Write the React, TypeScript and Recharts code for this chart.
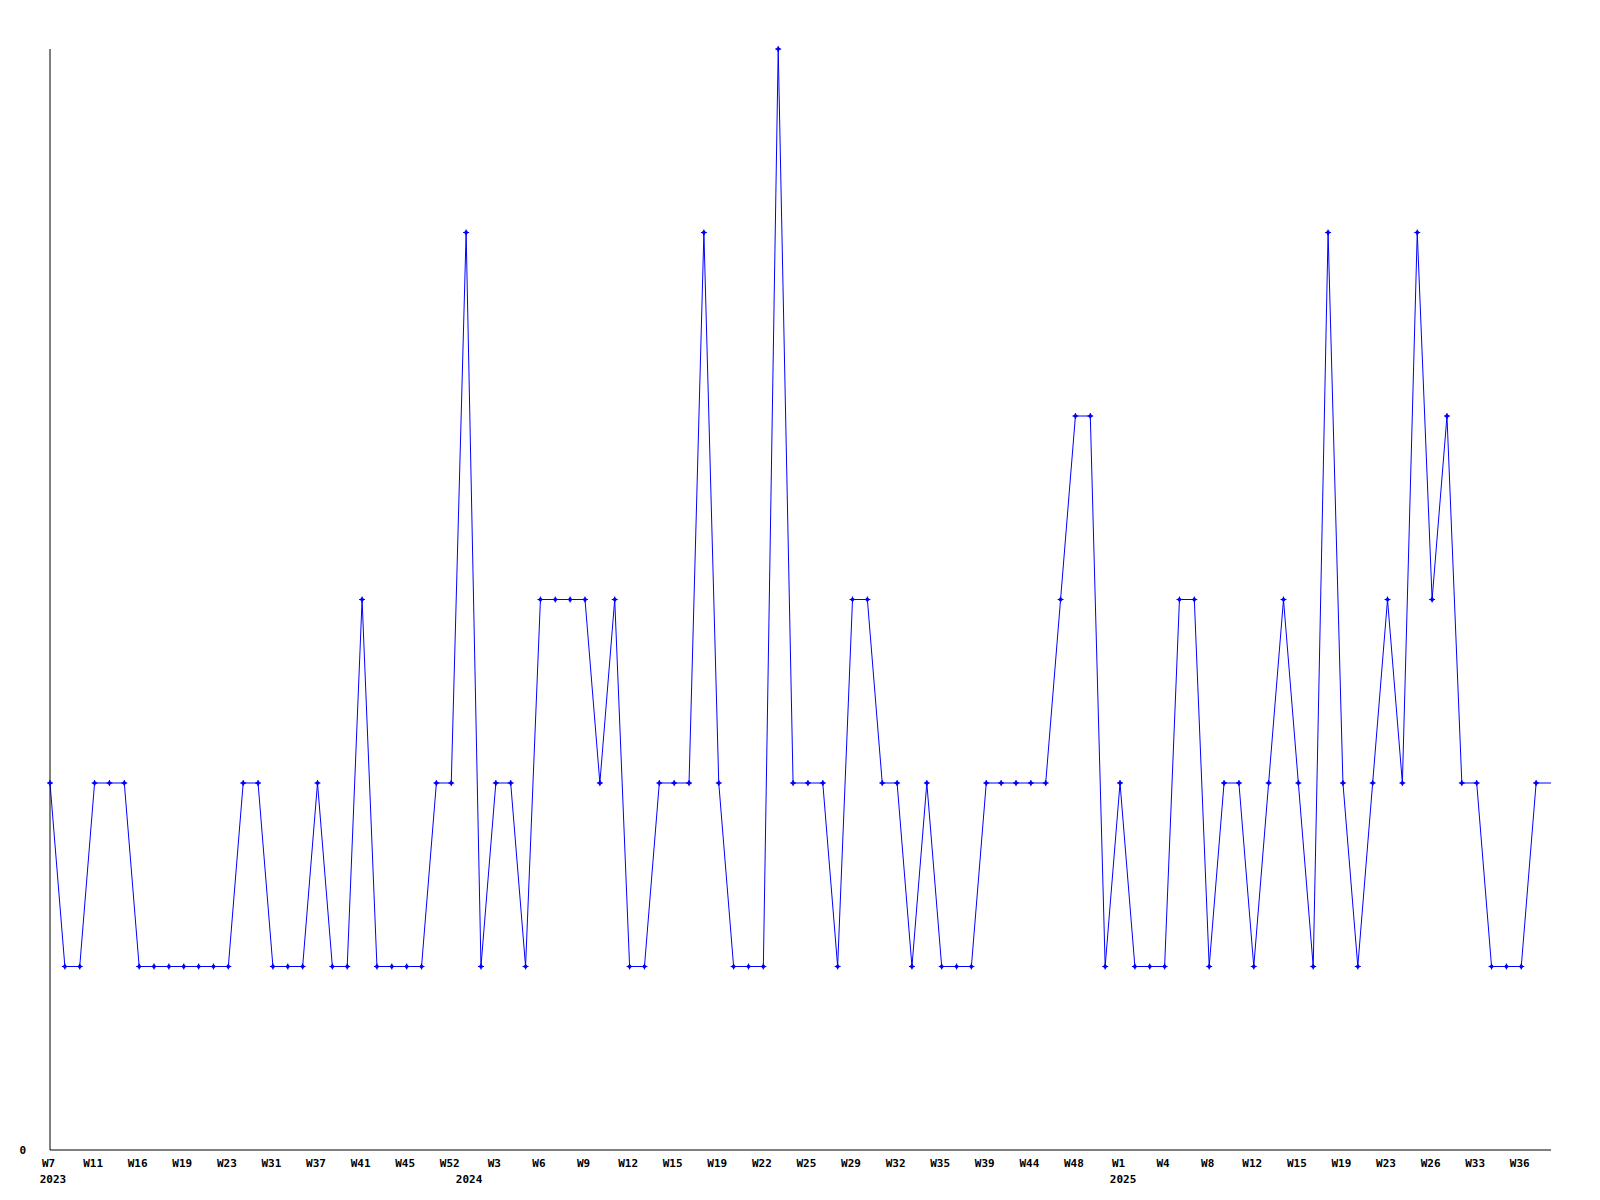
import { Line, LineChart, XAxis, YAxis } from 'recharts';

// weekly counts, one point per week that had data (weeks without data are skipped)
const values = [
  2, 1, 1, 2, 2, 2, 1, 1, 1, 1, 1, 1, 1, 2, 2, 1, 1, 1, 2, 1,
  1, 3, 1, 1, 1, 1, 2, 2, 5, 1, 2, 2, 1, 3, 3, 3, 3, 2, 3, 1,
  1, 2, 2, 2, 5, 2, 1, 1, 1, 6, 2, 2, 2, 1, 3, 3, 2, 2, 1, 2,
  1, 1, 1, 2, 2, 2, 2, 2, 3, 4, 4, 1, 2, 1, 1, 1, 3, 3, 1, 2,
  2, 1, 2, 3, 2, 1, 5, 2, 1, 2, 3, 2, 5, 3, 4, 2, 2, 1, 1, 1,
  2, 2,
];

// every third point carries a week label
const weekLabels = [
  'W7', 'W11', 'W16', 'W19', 'W23', 'W31', 'W37', 'W41', 'W45', 'W52',
  'W3', 'W6', 'W9', 'W12', 'W15', 'W19', 'W22', 'W25', 'W29', 'W32',
  'W35', 'W39', 'W44', 'W48', 'W1', 'W4', 'W8', 'W12', 'W15', 'W19',
  'W23', 'W26', 'W33', 'W36',
];

// year label sits under the first point of each year
const yearLabels: Record<number, string> = { 0: '2023', 28: '2024', 72: '2025' };

const LABEL_STEP = 3;
const BLUE = '#0000ff';
const FONT = "'DejaVu Sans Mono', 'Liberation Mono', monospace";

const data = values.map((v, i) => ({ i, v }));
const tickPositions = Array.from(
  new Set([...weekLabels.map((_, k) => k * LABEL_STEP), ...Object.keys(yearLabels).map(Number)])
).sort((a, b) => a - b);

function WeekTick({ x, y, payload }: any) {
  const idx = payload.value;
  const week = idx % LABEL_STEP === 0 ? weekLabels[idx / LABEL_STEP] : undefined;
  const year = yearLabels[idx];
  return (
    <g>
      {week && (
        <text x={x - 1.5} y={y + 17} textAnchor="middle" fontSize={11} fontWeight="bold" fontFamily={FONT} fill="#000">
          {week}
        </text>
      )}
      {year && (
        <text x={x + 3} y={y + 33} textAnchor="middle" fontSize={11} fontWeight="bold" fontFamily={FONT} fill="#000">
          {year}
        </text>
      )}
    </g>
  );
}

function Marker({ cx, cy, index }: any) {
  if (index === values.length - 1 || cx == null) return <g key={`d${index}`} />;
  return (
    <g key={`d${index}`}>
      <path d={`M${cx - 2.5},${cy}L${cx},${cy - 2.5}L${cx + 2.5},${cy}L${cx},${cy + 2.5}Z`} fill={BLUE} />
      <path d={`M${cx - 3},${cy}H${cx + 3}M${cx},${cy - 3}V${cy + 3}`} stroke={BLUE} strokeWidth={1} />
    </g>
  );
}

export default function App() {
  return (
    <div style={{ position: 'absolute', left: 0, top: 0, background: '#fff' }}>
      <LineChart width={1600} height={1200} data={data} margin={{ top: 49, right: 49, bottom: 10, left: 0 }}>
        <XAxis
          dataKey="i"
          type="number"
          domain={[0, values.length - 1]}
          ticks={tickPositions}
          interval={0}
          tickLine={false}
          tickSize={0}
          tickMargin={0}
          height={40}
          axisLine={{ stroke: '#000', strokeWidth: 1 }}
          tick={<WeekTick />}
        />
        <YAxis
          type="number"
          domain={[0, 6]}
          ticks={[0]}
          width={50}
          tickLine={false}
          tickSize={0}
          tickMargin={24}
          axisLine={{ stroke: '#000', strokeWidth: 1 }}
          tick={{ fontSize: 11, fontWeight: 'bold', fontFamily: FONT, fill: '#000' }}
        />
        <Line
          type="linear"
          dataKey="v"
          stroke={BLUE}
          strokeWidth={1}
          dot={Marker}
          activeDot={false}
          isAnimationActive={false}
        />
      </LineChart>
    </div>
  );
}
